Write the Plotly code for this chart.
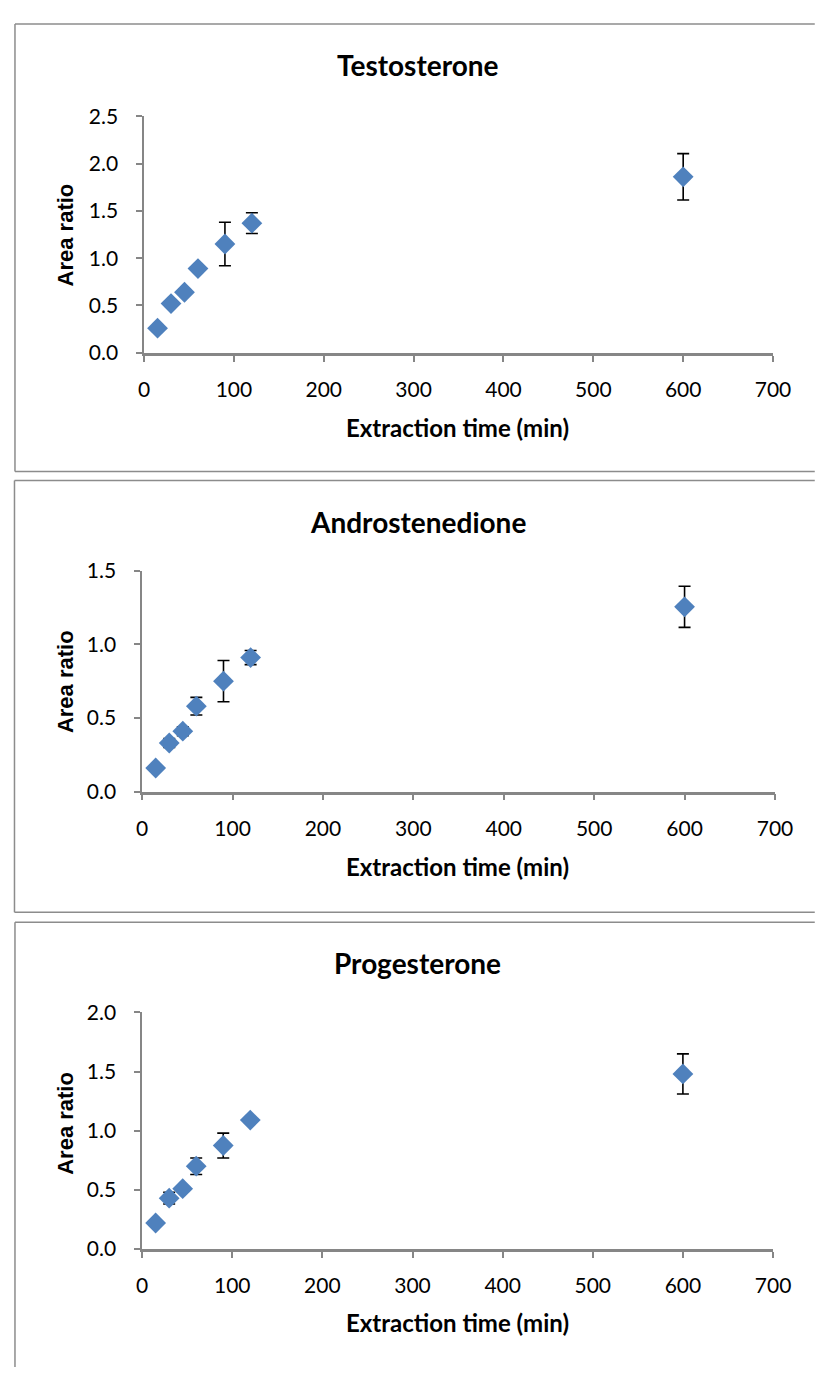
import plotly.graph_objects as go

# page is 833x1375; the browser body keeps an 8px margin, so the figure is 817x1359
PAGE_OFF = 8
W, H = 817, 1359

# ---- data ----
time_min = [15, 30, 45, 60, 90, 120, 600]

testo_vals = [0.26, 0.52, 0.64, 0.89, 1.15, 1.37, 1.86]
testo_err = [0.02, 0.03, 0.03, 0.03, 0.23, 0.11, 0.245]

andro_vals = [0.16, 0.33, 0.41, 0.58, 0.75, 0.91, 1.255]
andro_err = [0.02, 0.03, 0.03, 0.06, 0.14, 0.048, 0.14]

proge_vals = [0.22, 0.43, 0.51, 0.70, 0.875, 1.09, 1.48]
proge_err = [0.02, 0.05, 0.02, 0.07, 0.105, 0.02, 0.17]

titles = ["Testosterone", "Androstenedione", "Progesterone"]
y_ranges = [[0, 2.5], [0, 1.5], [0, 2.0]]
x_range = [0, 700]
x_label = "Extraction time (min)"
y_label = "Area ratio"

# ---- layout geometry (page pixels) ----
panels = [
    dict(box=(9, 10, 833, 466), xd=(142, 790), yd=(345, 104), title_y=52, xt_y=421, yt_y=225),
    dict(box=(8.5, 475, 833, 915), xd=(140, 792), yd=(792, 567), title_y=517, xt_y=868, yt_y=680),
    dict(box=(9, 925, 833, None), xd=(140, 790), yd=(1258, 1017), title_y=967, xt_y=1333, yt_y=1130),
]

def px(x):
    return (x - PAGE_OFF) / W

def py(y):
    return 1 - (y - PAGE_OFF) / H

series = [(testo_vals, testo_err), (andro_vals, andro_err), (proge_vals, proge_err)]

FONT = "Lato, Carlito, Open Sans, sans-serif"
fig = go.Figure()
tick_font = dict(family=FONT, size=21, color="black")
axis_color = "#868686"
border = dict(color="#8c8c8c", width=1.5)
shapes = []
annotations = []

for i, (p, (vals, errs)) in enumerate(zip(panels, series)):
    n = "" if i == 0 else str(i + 1)
    fig.add_trace(go.Scatter(
        x=time_min, y=vals, mode="markers",
        marker=dict(symbol="diamond", size=16, color="#4F81BD", line=dict(width=0)),
        error_y=dict(type="data", array=errs, visible=True, color="black", thickness=1.6, width=6),
        xaxis="x" + n, yaxis="y" + n, showlegend=False,
    ))
    fig.layout["xaxis" + n] = dict(
        domain=[px(p["xd"][0]), px(p["xd"][1])], range=x_range, anchor="y" + n,
        tickmode="linear", tick0=0, dtick=100, ticks="outside", ticklen=6, tickcolor=axis_color,
        tickwidth=1.5, showline=True, linecolor=axis_color, linewidth=2.5, showgrid=False,
        zeroline=False, tickfont=tick_font, fixedrange=True, ticklabelstandoff=10,
    )
    fig.layout["yaxis" + n] = dict(
        domain=[py(p["yd"][0]), py(p["yd"][1])], range=y_ranges[i], anchor="x" + n,
        tickmode="linear", tick0=0, dtick=0.5, tickformat=".1f", ticks="outside", ticklen=6,
        tickcolor=axis_color, tickwidth=1.5, showline=True, linecolor=axis_color, linewidth=1.5,
        showgrid=False, zeroline=False, tickfont=tick_font, fixedrange=True, ticklabelstandoff=14,
    )
    x0, y0, x1, y1 = p["box"]
    yb = y1 if y1 is not None else 1400
    # open frame: left, top, bottom (right side is cut off by the page edge)
    shapes.append(dict(type="line", xref="paper", yref="paper", x0=px(x0), x1=px(x0),
                       y0=py(y0), y1=py(yb), line=border))
    shapes.append(dict(type="line", xref="paper", yref="paper", x0=px(x0), x1=px(x1),
                       y0=py(y0), y1=py(y0), line=border))
    if y1 is not None:
        shapes.append(dict(type="line", xref="paper", yref="paper", x0=px(x0), x1=px(x1),
                           y0=py(y1), y1=py(y1), line=border))
    annotations.append(dict(text="<b>" + titles[i] + "</b>", xref="paper", yref="paper",
                            x=px(424), y=py(p["title_y"]), showarrow=False,
                            xanchor="center", yanchor="middle",
                            font=dict(family=FONT, size=28, color="black")))
    annotations.append(dict(text="<b>" + x_label + "</b>", xref="paper", yref="paper",
                            x=px(465), y=py(p["xt_y"]), showarrow=False,
                            xanchor="center", yanchor="middle",
                            font=dict(family=FONT, size=24, color="black")))
    annotations.append(dict(text="<b>" + y_label + "</b>", xref="paper", yref="paper",
                            x=px(61), y=py(p["yt_y"]), showarrow=False, textangle=-90,
                            xanchor="center", yanchor="middle",
                            font=dict(family="Liberation Sans, Arial, sans-serif", size=22, color="black")))

fig.update_layout(
    width=W, height=H, margin=dict(l=0, r=0, t=0, b=0),
    paper_bgcolor="white", plot_bgcolor="white",
    shapes=shapes, annotations=annotations, showlegend=False,
)

fig.write_html("out.html")
